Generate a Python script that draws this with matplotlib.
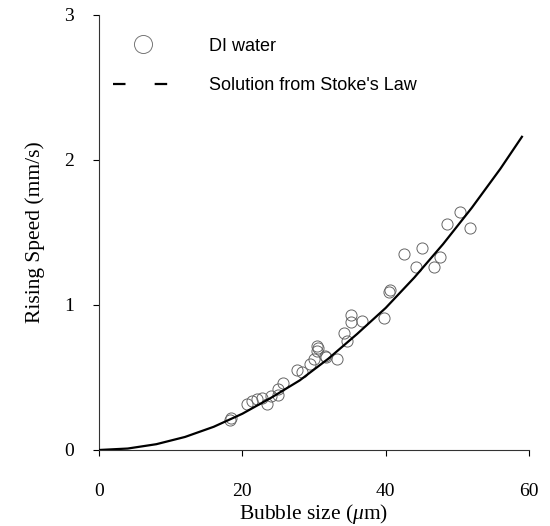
import numpy as np
import matplotlib
matplotlib.use("Agg")
from matplotlib import pyplot as plt
from matplotlib.lines import Line2D

plt.rcParams['lines.scale_dashes'] = False
plt.rcParams['mathtext.fontset'] = 'custom'
plt.rcParams['mathtext.rm'] = 'Liberation Serif'
plt.rcParams['mathtext.it'] = 'Liberation Serif:italic'

# measured bubbles in DI water: size (um) vs rising speed (mm/s)
bubble_size = [18.3, 18.4, 20.6, 21.3, 22.0, 22.7, 23.4, 24.0, 25.0, 25.0,
               25.6, 27.6, 28.3, 29.5, 30.0, 30.4, 30.4, 30.6, 31.5, 31.6,
               33.2, 34.2, 34.6, 35.1, 35.1, 36.7, 39.7, 40.4, 40.6, 42.5,
               44.2, 45.1, 46.7, 47.6, 48.5, 50.4, 51.7]
rising_speed = [0.21, 0.22, 0.32, 0.34, 0.35, 0.36, 0.32, 0.37, 0.42, 0.38,
                0.46, 0.55, 0.54, 0.59, 0.63, 0.68, 0.72, 0.70, 0.65, 0.64,
                0.63, 0.81, 0.75, 0.93, 0.88, 0.89, 0.91, 1.09, 1.10, 1.35,
                1.26, 1.39, 1.26, 1.33, 1.56, 1.64, 1.53]

# Stokes law curve
stokes_size = [0, 4, 8, 12, 16, 20, 24, 28, 32, 36, 40, 44, 48, 52, 56, 59]
stokes_speed = [0, 0.01, 0.04, 0.09, 0.16, 0.25, 0.36, 0.48, 0.63, 0.80,
                0.98, 1.19, 1.42, 1.67, 1.94, 2.16]

fig = plt.figure(figsize=(5.5, 5.26), dpi=100)
ax = fig.add_axes([0.18, 0.1445, 0.782, 0.827])

ax.plot(bubble_size, rising_speed, 'o', mfc='none', mec='#666666', mew=0.7,
        ms=8, zorder=2)
ax.plot(stokes_size, stokes_speed, '-', color='black', lw=1.6, zorder=3)

ax.set_xlim(0, 60)
ax.set_ylim(0, 3)
ax.set_xticks([0, 20, 40, 60])
ax.set_yticks([0, 1, 2, 3])
for s in ['top', 'right']:
    ax.spines[s].set_visible(False)
for s in ['left', 'bottom']:
    ax.spines[s].set_linewidth(0.8)
    ax.spines[s].set_color('#333333')
ax.tick_params(direction='out', length=4, width=0.8,
               labelsize=14, colors='black')
ax.tick_params(axis='x', pad=20)
ax.tick_params(axis='y', pad=14)
for lab in ax.get_xticklabels() + ax.get_yticklabels():
    lab.set_fontfamily('Liberation Serif')

ax.set_xlabel(r'Bubble size ($\mu$m)', fontsize=15.5, fontfamily='Liberation Serif', labelpad=1)
ax.set_ylabel('Rising Speed (mm/s)', fontsize=15.5, fontfamily='Liberation Serif', labelpad=14)

handles = [Line2D([], [], ls='none', marker='o', mfc='none', mec='#777777',
                  mew=0.7, ms=13),
           Line2D([], [], color='black', lw=1.6, dashes=(9, 21))]
leg = ax.legend(handles, ['DI water', "Solution from Stoke's Law"],
                loc='upper left', bbox_to_anchor=(-0.005, 0.985), frameon=False,
                prop={'family': 'Liberation Sans', 'size': 13},
                handlelength=3.3, handletextpad=2.0, labelspacing=1.25)

fig.savefig('out.png', dpi=100)
